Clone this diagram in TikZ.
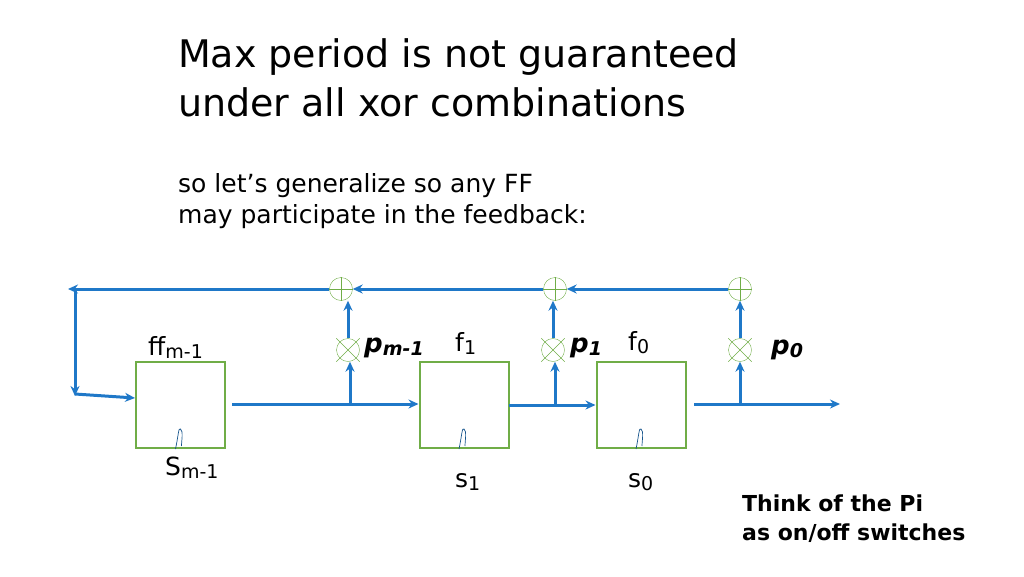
\documentclass[tikz,border=0pt]{standalone}
\usepackage{fontspec}
\setmainfont{DejaVu Sans}
\usetikzlibrary{shapes.misc,arrows.meta}
\definecolor{wire}{HTML}{1F78C8}
\definecolor{ffgreen}{HTML}{70AD47}
\newcommand{\lsub}[1]{\raisebox{-3pt}{\fontsize{19}{22}\selectfont #1}}
\tikzset{
  ffbox/.style={draw=ffgreen,line width=2pt,minimum width=89pt,minimum height=86pt,inner sep=0pt},
  gate/.style={draw=ffgreen,circle,minimum size=23pt,inner sep=0pt},
  wireline/.style={draw=wire,line width=3pt,-{Stealth[length=10pt,width=9pt]}},
  lbl/.style={font=\fontsize{25}{28}\selectfont,anchor=west,inner sep=0pt},
  plbl/.style={font=\fontsize{26}{28}\selectfont\bfseries\itshape,anchor=west,inner sep=0pt}
}
\begin{document}
\begin{tikzpicture}[x=1pt,y=-1pt]
  \useasboundingbox (0,0) rectangle (1024,576);

  % title
  \node[anchor=west,inner sep=0pt,font=\fontsize{38}{44}\selectfont] (title1) at (178,57) {Max period is not guaranteed};
  \node[anchor=west,inner sep=0pt,font=\fontsize{38}{44}\selectfont] (title2) at (178,102) {under all xor combinations};
  \node[anchor=west,inner sep=0pt,font=\fontsize{25}{28}\selectfont] (sub1) at (178,186) {so let’s generalize so any FF};
  \node[anchor=west,inner sep=0pt,font=\fontsize{25}{28}\selectfont] (sub2) at (178,217) {may participate in the feedback:};

  % flip-flops
  \node[ffbox] (ffm) at (180.5,405) {};
  \node[ffbox] (ff1) at (464,405) {};
  \node[ffbox] (ff0) at (641,405) {};
  \foreach \f in {ffm,ff1,ff0}
    \draw[wire!70!black,line width=0.7pt] ([xshift=-5pt]\f.south) .. controls ([xshift=-2pt,yshift=14pt]\f.south) and ([xshift=-2pt,yshift=22pt]\f.south) .. ([yshift=20pt]\f.south) .. controls ([xshift=3pt,yshift=18pt]\f.south) and ([xshift=1pt,yshift=8pt]\f.south) .. ([xshift=1pt,yshift=3pt]\f.south);

  % labels
  \node[lbl] (lffm) at (148,347) {ff\lsub{m-1}};
  \node[lbl] (lsm) at (165,468) {S\lsub{m-1}};
  \node[lbl] (lf1) at (455,343) {f\lsub{1}};
  \node[lbl] (ls1) at (455,482) {s\lsub{1}};
  \node[lbl] (lf0) at (628,343) {f\lsub{0}};
  \node[lbl] (ls0) at (628,482) {s\lsub{0}};

  % and / xor gates
  \node[gate,cross out,draw=ffgreen] (andm) at (348,350) {};
  \node[gate,cross out,draw=ffgreen] (and1) at (553,350) {};
  \node[gate,cross out,draw=ffgreen] (and0) at (740,350) {};
  \foreach \g in {andm,and1,and0}
    \draw[ffgreen] (\g) circle (11.5pt);
  \node[gate] (xorm) at (341,289) {};
  \node[gate] (xor1) at (555,289) {};
  \node[gate] (xor0) at (740,289) {};
  \foreach \g in {xorm,xor1,xor0}
    \draw[ffgreen] (\g.north) -- (\g.south) (\g.west) -- (\g.east);

  \node[plbl] (pm) at (364,348) {p\raisebox{-3pt}{\fontsize{19}{22}\selectfont m-1}};
  \node[plbl] (p1) at (570,348) {p\raisebox{-3pt}{\fontsize{19}{22}\selectfont 1}};
  \node[plbl] (p0) at (771,350) {p\raisebox{-3pt}{\fontsize{19}{22}\selectfont 0}};

  % coordinates of the wires
  \coordinate (fbend) at (68,289);
  \coordinate (fdown) at (75,289);
  \coordinate (fin) at (75,396);
  \coordinate (outm) at (232,404);
  \coordinate (brm) at (350,404);
  \coordinate (out1) at (509,405);
  \coordinate (br1) at (555,405);
  \coordinate (out0) at (694,404);
  \coordinate (br0) at (740,404);
  \coordinate (qout) at (840,404);

  % shift path
  \draw[wireline] (outm) -- (ff1.west |- brm);
  \draw[wireline] (out1) -- (ff0.west |- br1);
  \draw[wireline] (out0) -- (qout);
  \draw[wireline] (brm) -- (brm |- andm.south);
  \draw[wireline] (br1) -- (br1 |- and1.south);
  \draw[wireline] (br0) -- (and0.south);
  \draw[wireline] (andm.north) -- (xorm.south -| andm.north);
  \draw[wireline] (and1.north) -- (xor1.south -| and1.north);
  \draw[wireline] (and0.north) -- (xor0.south);

  % feedback
  \draw[wireline] (xor0.west) -- (xor1.east);
  \draw[wireline] (xor1.west) -- (xorm.east);
  \draw[wireline] (xorm.west) -- (fbend);
  \draw[wireline] (fdown) -- (fin);
  \draw[wireline] ([yshift=2pt]fin) -- (ffm.west |- 0,398);

  % note
  \node[anchor=west,inner sep=0pt,font=\fontsize{22}{26}\selectfont\bfseries] (note1) at (742,503) {Think of the Pi};
  \node[anchor=west,inner sep=0pt,font=\fontsize{22}{26}\selectfont\bfseries] (note2) at (742,533) {as on/off switches};
\end{tikzpicture}
\end{document}
